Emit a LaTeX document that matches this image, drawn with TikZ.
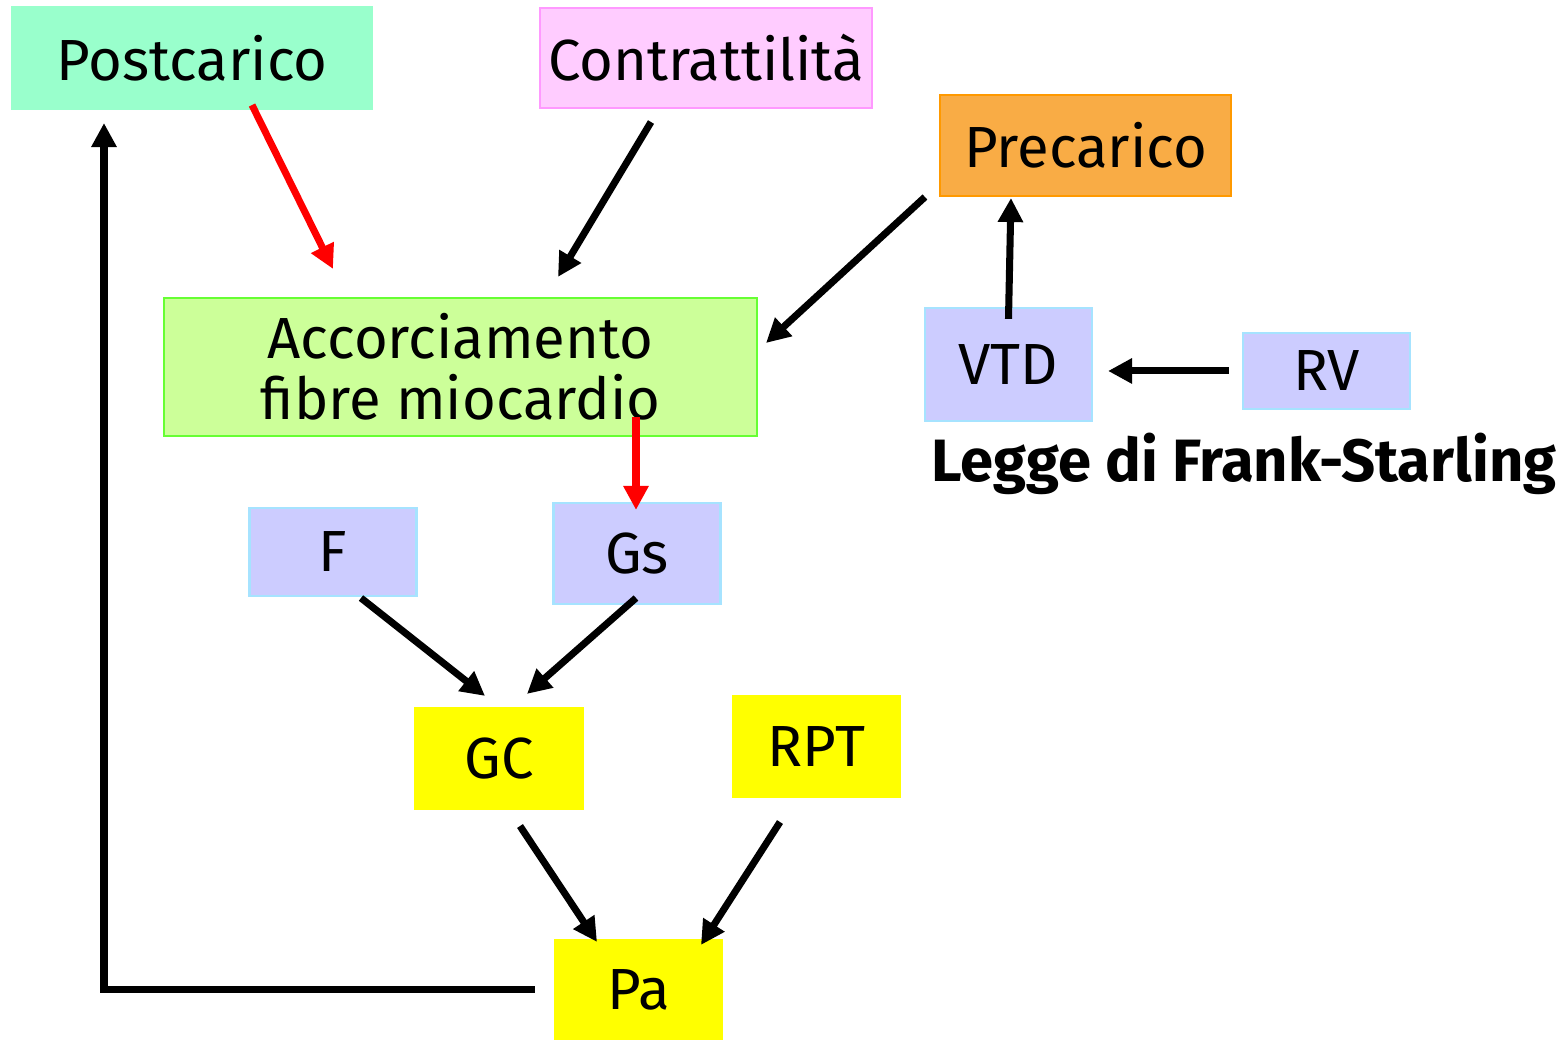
\documentclass[tikz,border=0pt]{standalone}
\usepackage{fontspec}
\setmainfont{Fira Sans}
\usetikzlibrary{arrows.meta,calc}

\definecolor{postfill}{HTML}{99FFCC}
\definecolor{contrfill}{HTML}{FFCCFF}
\definecolor{contrline}{HTML}{FF99FF}
\definecolor{precfill}{HTML}{F9AC45}
\definecolor{precline}{HTML}{FF9900}
\definecolor{accfill}{HTML}{CCFF99}
\definecolor{accline}{HTML}{66FF33}
\definecolor{lilla}{HTML}{CCCCFF}
\definecolor{lillaline}{HTML}{A6E3FF}
\definecolor{giallo}{HTML}{FFFF00}
\definecolor{rosso}{HTML}{FF0000}

\begin{document}
\begin{tikzpicture}[
    box/.style={rectangle, draw, line width=0.6pt, inner sep=0pt, align=center,
        font=\fontsize{16.5}{17.5}\selectfont},
    lbox/.style={box, fill=lilla, draw=lillaline, minimum width=1.67cm},
    ybox/.style={box, fill=giallo, draw=giallo, minimum width=1.67cm, minimum height=1.01cm},
    arrow/.style={->, >={Triangle[length=0.24cm,width=0.24cm]}, line width=2pt},
    redarrow/.style={arrow, draw=rosso, fill=rosso}
]
    \useasboundingbox (0,0) rectangle (15.63,10.40);

    \node[box, fill=postfill, draw=postfill, minimum width=3.60cm, minimum height=1.02cm] (post) at (1.92,9.82) {Postcarico};
    \node[box, fill=contrfill, draw=contrline, minimum width=3.32cm, minimum height=1.00cm] (contr) at (7.06,9.82) {Contrattilità};
    \node[box, fill=precfill, draw=precline, minimum width=2.91cm, minimum height=1.01cm] (prec) at (10.855,8.945) {Precarico};
    \node[box, fill=accfill, draw=accline, minimum width=5.93cm, minimum height=1.38cm] (acc) at (4.605,6.73) {Accorciamento\\fibre miocardio};
    \node[lbox, minimum height=1.13cm] (vtd) at (10.085,6.755) {VTD};
    \node[lbox, minimum height=0.76cm] (rv) at (13.265,6.69) {RV};
    \node[font=\fontsize{17}{18}\selectfont\bfseries, inner sep=0pt] (legge) at (12.44,5.76) {Legge di Frank-Starling};
    \node[lbox, minimum height=0.88cm] (f) at (3.33,4.88) {F};
    \node[lbox, minimum height=1.01cm] (gs) at (6.37,4.865) {Gs};
    \node[ybox] (gc) at (4.99,2.815) {GC};
    \node[ybox] (rpt) at (8.165,2.935) {RPT};
    \node[ybox, minimum height=1.00cm] (pa) at (6.385,0.50) {Pa};

    \draw[redarrow] ([xshift=0.60cm,yshift=0.05cm]post.south) -- ([xshift=-1.275cm,yshift=0.28cm]acc.north);
    \draw[arrow] ([xshift=-0.55cm,yshift=-0.13cm]contr.south) -- ([xshift=0.975cm,yshift=0.20cm]acc.north);
    \draw[arrow] ([xshift=-0.14cm]prec.south west) -- ([xshift=0.08cm,yshift=0.24cm]acc.east);
    \draw[arrow] ([yshift=-0.12cm]vtd.north) -- ([xshift=-0.745cm,yshift=-0.01cm]prec.south);
    \draw[arrow] ([xshift=-0.13cm]rv.west) -- ([xshift=0.15cm,yshift=-0.065cm]vtd.east);
    \draw[redarrow] ($(gs.north |- acc.south)+(-0.01,0.2)$) -- ([xshift=-0.01cm,yshift=-0.08cm]gs.north);
    \draw[arrow] ([xshift=0.28cm,yshift=-0.01cm]f.south) -- ([xshift=-0.14cm,yshift=0.11cm]gc.north);
    \draw[arrow] ([xshift=-0.01cm,yshift=0.07cm]gs.south) -- ([xshift=0.28cm,yshift=0.13cm]gc.north);
    \draw[arrow] ([xshift=0.21cm,yshift=-0.16cm]gc.south) -- ([xshift=-0.415cm,yshift=-0.03cm]pa.north);
    \draw[arrow] ([xshift=-0.365cm,yshift=-0.24cm]rpt.south) -- ([xshift=0.625cm,yshift=-0.06cm]pa.north);
    \draw[arrow] ([xshift=-0.19cm]pa.west) -| ([xshift=-0.88cm,yshift=-0.13cm]post.south);
\end{tikzpicture}
\end{document}
